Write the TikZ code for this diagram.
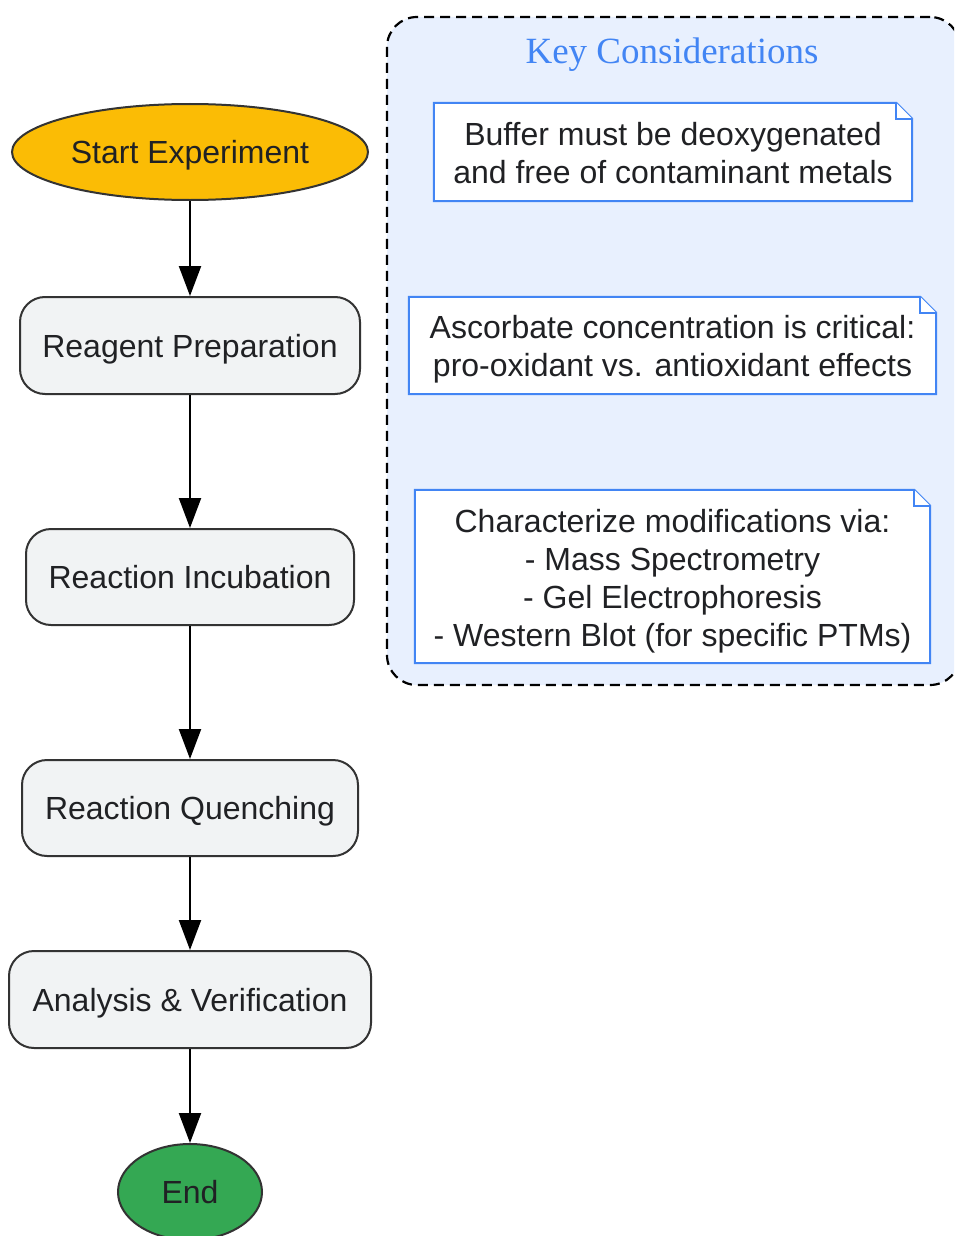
\documentclass[tikz,border=0pt]{standalone}
\usepackage{fontspec}
\setmainfont{Liberation Sans}
\newfontfamily\titlefont{Liberation Serif}
\definecolor{mytext}{HTML}{202124}
\definecolor{myyellow}{HTML}{FBBC05}
\definecolor{mygreen}{HTML}{34A853}
\definecolor{mygray}{HTML}{F1F3F4}
\definecolor{myblue}{HTML}{4285F4}
\definecolor{mypale}{HTML}{E8F0FE}
\definecolor{myborder}{HTML}{333333}
\usetikzlibrary{shapes.geometric,arrows.meta}

\begin{document}
\begin{tikzpicture}[x=1pt,y=-1pt,
        every node/.style={text=mytext,font=\fontsize{32}{38}\selectfont,inner sep=0pt},
        termnode/.style={draw=myborder,ellipse,line width=2pt,text depth=0pt},
        stepnode/.style={draw=myborder,fill=mygray,rounded corners=25pt,line width=2pt,text depth=0pt},
        notenode/.style={align=center},
        noteline/.style={draw=myblue,line width=2pt,fill=white},
        keybox/.style={draw=black,fill=mypale,line width=2.2pt,dash pattern=on 10pt off 6pt,rounded corners=30pt},
        flow/.style={line width=2.2pt,-{Triangle[width=22pt,length=30pt]}}
        ]
        \useasboundingbox (0,0) rectangle (954,1236);
        \clip (0,0) rectangle (954,1236);
        
        % the considerations box
        \node[keybox,minimum width=573pt,minimum height=668pt] (keys) at (673.5,351) {};
        \node[text=myblue,font=\titlefont\fontsize{37}{44}\selectfont] (title) at (672,55) {Key Considerations};
        
        % the notes
        \node[minimum width=478pt,minimum height=98pt] (n1) at (673,152) {};
        \node[minimum width=527pt,minimum height=97pt] (n2) at (672.5,345.5) {};
        \node[minimum width=515pt,minimum height=173pt] (n3) at (672.5,576.5) {};
        \foreach \n in {n1,n2,n3} {
            \path[noteline] (\n.south west) -- (\n.north west) -- ([xshift=-16pt]\n.north east)
                -- ([yshift=-16pt]\n.north east) -- (\n.south east) -- cycle;
            \path[noteline] ([xshift=-16pt]\n.north east) -- ([xshift=-16pt,yshift=-16pt]\n.north east)
                -- ([yshift=-16pt]\n.north east);
        }
        \node[notenode] (t1) at ([yshift=-1pt]n1) {Buffer must be deoxygenated\\and free of contaminant metals};
        \node[notenode] (t2) at ([yshift=-4pt]n2) {Ascorbate concentration is critical:\\pro-oxidant vs. antioxidant effects};
        \node[notenode] (t3) at ([yshift=-5pt]n3) {Characterize modifications via:\\- Mass Spectrometry\\- Gel Electrophoresis\\- Western Blot (for specific PTMs)};
        
        % the steps
        \node[termnode,fill=myyellow,minimum width=356pt,minimum height=96pt] (start) at (190,152) {Start Experiment};
        \node[stepnode,minimum width=340pt,minimum height=97pt] (prep) at (190,345.5) {Reagent Preparation};
        \node[stepnode,minimum width=328pt,minimum height=96pt] (incub) at (190,577) {Reaction Incubation};
        \node[stepnode,minimum width=336pt,minimum height=96pt] (quench) at (190,808) {Reaction Quenching};
        \node[stepnode,minimum width=362pt,minimum height=97pt] (anal) at (190,999.5) {Analysis \& Verification};
        \node[termnode,fill=mygreen,minimum width=144pt,minimum height=96pt] (end) at (190,1192) {End};
        
        % the edges
        \draw[flow] (start) -- (prep);
        \draw[flow] (prep) -- (incub);
        \draw[flow] (incub) -- (quench);
        \draw[flow] (quench) -- (anal);
        \draw[flow] (anal) -- (end);
\end{tikzpicture}
\end{document}
